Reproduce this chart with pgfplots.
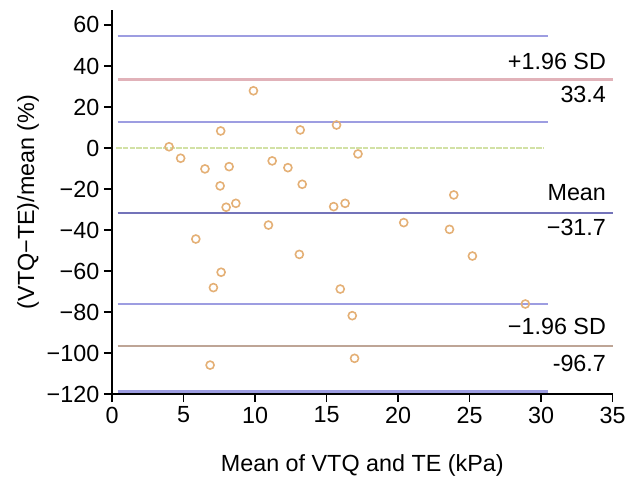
\documentclass[border=0pt]{standalone}
\usepackage{pgfplots}
\pgfplotsset{compat=1.18}
\usepackage{fontspec}
\setmainfont{Liberation Sans}

\definecolor{ptorange}{RGB}{228,176,118}
\definecolor{ciblue}{RGB}{140,140,220}
\definecolor{meanblue}{RGB}{115,115,185}
\definecolor{loared}{RGB}{225,178,185}
\definecolor{loabrown}{RGB}{190,165,150}
\definecolor{zerogreen}{RGB}{210,225,165}
\newcommand{\bigfont}{\fontsize{17.5}{21}\selectfont}

\begin{document}
\begin{tikzpicture}
\begin{axis}[name=ax, scale only axis, width=375.4pt, height=288pt,
  xmin=0, xmax=35, ymin=-120, ymax=67.3,
  axis x line*=bottom, axis y line*=left,
  axis line style={-, line width=1pt},
  tick align=outside, major tick length=6pt,
  tick style={black, line width=1pt},
  xtick={0,5,...,35}, ytick={-120,-100,...,60},
  xticklabels={0,5,10,15,20,25,30,35},
  yticklabels={−120,−100,−80,−60,−40,−20,0,20,40,60},
  tick label style={font=\bigfont},
  label style={font=\bigfont},
  xlabel={Mean of VTQ and TE (kPa)},
  ylabel={(VTQ−TE)/mean (\%)},
  xlabel style={at={(axis description cs:0.5,-0.1849)}, anchor=center},
  ylabel style={at={(axis description cs:-0.1678,0.5)}, anchor=center},
  clip=false]

% measured points
\addplot [only marks, mark=o, mark size=3pt, mark options={ptorange, line width=1.2pt}]
  coordinates {
  (9.89,27.9) (7.6,8.3) (13.16,8.8) (15.7,11.2) (3.99,0.6) (17.2,-2.9)
  (4.8,-5) (6.5,-10.2) (8.19,-9.1) (11.2,-6.3) (12.3,-9.6) (7.56,-18.5)
  (13.3,-17.7) (7.98,-28.9) (8.66,-27) (15.5,-28.6) (16.3,-27) (10.94,-37.6)
  (5.86,-44.4) (13.1,-51.9) (7.63,-60.6) (7.09,-68.1) (15.96,-68.8) (16.8,-81.8)
  (6.86,-105.9) (16.96,-102.6) (23.9,-22.9) (20.4,-36.4) (23.6,-39.7)
  (25.2,-52.7) (28.9,-76.1)
  };

% reference lines
\addplot [zerogreen, line width=1.4pt, dash pattern=on 4pt off 1pt] coordinates {(0.3,0) (30.2,0)};
\addplot [ciblue, line width=1.8pt, opacity=0.85] coordinates {(0.4,54.6) (30.5,54.6)};
\addplot [loared, line width=1.8pt] coordinates {(0.4,33.4) (35,33.4)};
\addplot [ciblue, line width=1.8pt, opacity=0.85] coordinates {(0.4,12.6) (30.5,12.6)};
\addplot [meanblue, line width=1.8pt] coordinates {(0.4,-31.7) (35,-31.7)};
\addplot [ciblue, line width=1.8pt, opacity=0.85] coordinates {(0.4,-76) (30.5,-76)};
\addplot [loabrown, line width=1.8pt] coordinates {(0.4,-96.7) (35,-96.7)};
\addplot [ciblue, line width=1.8pt, opacity=0.85] coordinates {(0.4,-118.8) (30.5,-118.8)};

\begin{scope}[every node/.style={font=\bigfont, anchor=east, inner sep=1pt}]
\node at (axis cs:34.65,42) {+1.96 SD};
\node at (axis cs:34.65,25.9) {33.4};
\node at (axis cs:34.65,-22) {Mean};
\node at (axis cs:34.65,-39) {−31.7};
\node[fill=white] at (axis cs:34.65,-87.3) {−1.96 SD};
\node at (axis cs:34.65,-104.9) {-96.7};
\end{scope}
\end{axis}
\pgfresetboundingbox
\path[use as bounding box] ([shift={(-84pt,-61.5pt)}]ax.south west)
  rectangle ([shift={(386.25pt,295.5pt)}]ax.south west);
\end{tikzpicture}
\end{document}
